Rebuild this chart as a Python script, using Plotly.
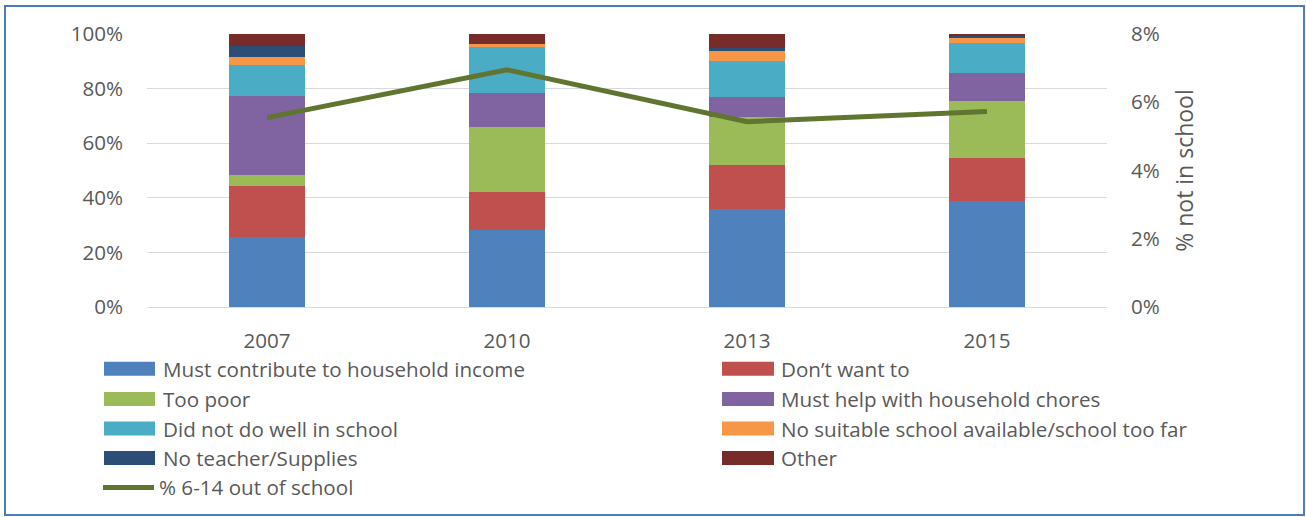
import plotly.graph_objects as go

# Survey years
years = ["2007", "2010", "2013", "2015"]

# Reasons for being out of school (share of children out of school, %)
must_contribute = [25.7, 28.1, 35.9, 38.8]
dont_want = [18.5, 14.1, 16.2, 15.9]
too_poor = [4.1, 23.9, 17.4, 20.9]
household_chores = [29.0, 12.2, 7.4, 10.0]
did_not_do_well = [11.5, 17.1, 13.3, 11.0]
no_suitable_school = [2.7, 1.0, 3.5, 2.2]
no_teacher = [4.1, 0.0, 1.2, 0.7]
other = [4.4, 3.7, 5.1, 0.5]

# Share of 6-14 year olds out of school (%)
out_of_school = [5.55, 6.95, 5.43, 5.73]

series_names = [
    "Must contribute to household income",
    "Don\u2019t want to",
    "Too poor",
    "Must help with household chores",
    "Did not do well in school",
    "No suitable school available/school too far",
    "No teacher/Supplies",
    "Other",
]
series_values = [must_contribute, dont_want, too_poor, household_chores,
                 did_not_do_well, no_suitable_school, no_teacher, other]
series_colors = ["#4f81bd", "#c0504d", "#9bbb59", "#8064a2",
                 "#4bacc6", "#f79646", "#2c4d75", "#772c2a"]
line_name = "% 6-14 out of school"
line_color = "#5f7530"

W, H = 1306, 517
L, R, T, B = 147, 199, 34, 210
plot_w = W - L - R
plot_h = H - T - B
FONT = "Open Sans, Liberation Sans, Arial, sans-serif"
TEXT = "#595959"
FS = 20.6


def px_x(x):
    return (x - L) / plot_w


def px_y(y):
    return (H - B - y) / plot_h


fig = go.Figure()
for name, vals, col in zip(series_names, series_values, series_colors):
    fig.add_trace(go.Bar(
        x=years, y=[v / 100 for v in vals], name=name,
        marker=dict(color=col, line=dict(width=0)),
        showlegend=False,
    ))

fig.add_trace(go.Scatter(
    x=years, y=[v / 100 for v in out_of_school], name=line_name,
    mode="lines", line=dict(color=line_color, width=5),
    yaxis="y2", showlegend=False,
))

# Legend drawn as swatches + labels in two columns below the plot
shapes = []
annotations = []
row_y = [368.7, 399.0, 428.6, 458.0, 487.5]
col_x = [(104, 155, 161), (722, 774, 779)]
for i, (name, col) in enumerate(zip(series_names, series_colors)):
    r, c = divmod(i, 2)
    x0, x1, tx = col_x[c]
    yc = row_y[r]
    shapes.append(dict(
        type="rect", xref="paper", yref="paper",
        x0=px_x(x0), x1=px_x(x1), y0=px_y(yc + 7), y1=px_y(yc - 7),
        fillcolor=col, line=dict(width=0), layer="above",
    ))
    annotations.append(dict(
        text=name, xref="paper", yref="paper", x=px_x(tx), y=px_y(yc),
        xanchor="left", yanchor="middle", showarrow=False,
        font=dict(family=FONT, size=FS, color=TEXT),
    ))

yc = row_y[4]
shapes.append(dict(
    type="line", xref="paper", yref="paper",
    x0=px_x(103), x1=px_x(154), y0=px_y(yc), y1=px_y(yc),
    line=dict(color=line_color, width=5), layer="above",
))
annotations.append(dict(
    text=line_name, xref="paper", yref="paper", x=px_x(157), y=px_y(yc),
    xanchor="left", yanchor="middle", showarrow=False,
    font=dict(family=FONT, size=FS, color=TEXT),
))

# Outer chart border
shapes.append(dict(
    type="rect", xref="paper", yref="paper",
    x0=px_x(5), x1=px_x(1304), y0=px_y(515), y1=px_y(6),
    line=dict(color="#4a7ebb", width=2), fillcolor="rgba(0,0,0,0)",
    layer="above",
))

fig.update_layout(
    width=W, height=H,
    margin=dict(l=L, r=R, t=T, b=B, pad=0),
    paper_bgcolor="white", plot_bgcolor="white",
    barmode="stack", bargap=0.683,
    font=dict(family=FONT, size=FS, color=TEXT),
    shapes=shapes, annotations=annotations,
    xaxis=dict(
        showgrid=False, showline=False, ticks="",
        tickfont=dict(family=FONT, size=FS, color=TEXT),
        ticklabelstandoff=19,
    ),
    yaxis=dict(
        range=[0, 1], dtick=0.2, tickformat=".0%",
        showgrid=True, gridcolor="#d9d9d9", gridwidth=1,
        zeroline=True, zerolinecolor="#d9d9d9", zerolinewidth=1,
        showline=False, ticks="", ticklabelstandoff=23,
        tickfont=dict(family=FONT, size=FS, color=TEXT),
    ),
    yaxis2=dict(
        range=[0, 0.08], dtick=0.02, tickformat=".0%",
        overlaying="y", side="right",
        showgrid=False, zeroline=False, showline=False, ticks="",
        ticklabelstandoff=23,
        tickfont=dict(family=FONT, size=FS, color=TEXT),
        title=dict(text="% not in school", standoff=18,
                   font=dict(family=FONT, size=23, color=TEXT)),
    ),
)

fig.write_html("out.html")
